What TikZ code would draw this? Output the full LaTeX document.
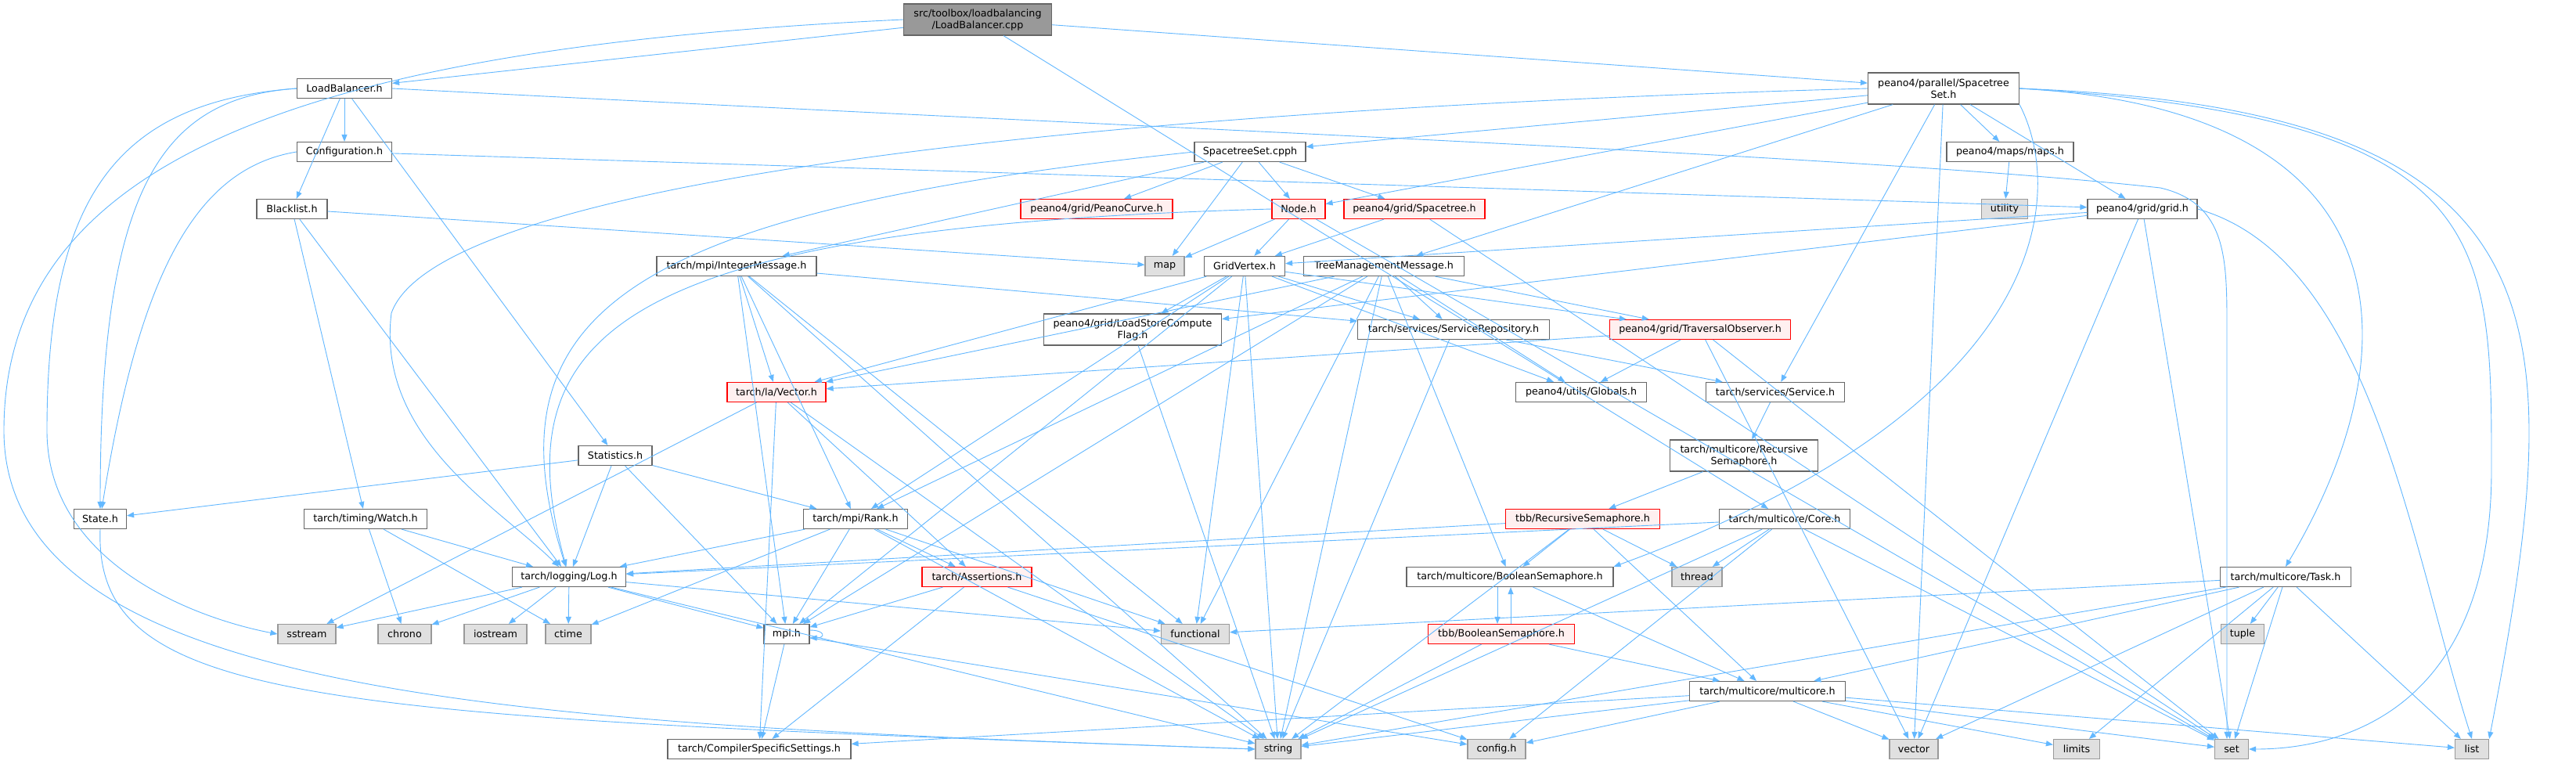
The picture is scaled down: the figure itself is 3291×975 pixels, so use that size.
\documentclass[tikz,border=0pt]{standalone}
\usepackage{fontspec}
\newfontfamily\graphfont{DejaVu Sans}
\usetikzlibrary{arrows.meta}
\definecolor{edgecol}{HTML}{63B8FF}
\definecolor{hdrline}{HTML}{666666}
\definecolor{sysfill}{HTML}{E0E0E0}
\definecolor{sysline}{HTML}{999999}
\definecolor{truncfill}{HTML}{FFF0F0}
\definecolor{truncline}{HTML}{FF0000}
\definecolor{rootfill}{HTML}{999999}
\newcommand{\hdrfont}{\graphfont\fontsize{12.7}{15}\selectfont}
\tikzset{
  hdr/.style   = {rectangle, draw=hdrline, fill=white, line width=1.2pt,
                  align=center, font=\hdrfont, minimum height=25pt, inner sep=2pt},
  sys/.style   = {hdr, draw=sysline, fill=sysfill},
  trunc/.style = {hdr, draw=truncline, fill=truncfill},
  rootnode/.style = {hdr, fill=rootfill, minimum height=40pt},
  dep/.style   = {-{Triangle[length=9pt,width=7pt]}, line width=0.9pt, draw=edgecol},
}

\begin{document}
\begin{tikzpicture}[x=1pt, y=-1pt]
\fill[white] (0,0) rectangle (3291,975);
\useasboundingbox (0,0) rectangle (3291,975);
% top rows
\node[rootnode, minimum width=189pt, minimum height=40pt] (root) at (1249,25) {src/toolbox/loadbalancing\\/LoadBalancer.cpp};
\node[hdr, minimum width=121pt] (lbh) at (440,113) {LoadBalancer.h};
\node[hdr, minimum width=193pt, minimum height=40pt] (ssh) at (2483,113) {peano4/parallel/Spacetree\\Set.h};
\node[hdr, minimum width=121pt] (config) at (440,194) {Configuration.h};
\node[hdr, minimum width=142pt] (cpph) at (1597,194) {SpacetreeSet.cpph};
\node[hdr, minimum width=162pt] (maps) at (2568,194) {peano4/maps/maps.h};
\node[hdr, minimum width=90pt] (blacklist) at (373,267) {Blacklist.h};
\node[trunc, minimum width=194pt] (peanocurve) at (1401,267) {peano4/grid/PeanoCurve.h};
\node[trunc, minimum width=68pt] (node) at (1659,267) {Node.h};
\node[trunc, minimum width=180pt] (spacetree) at (1807,267) {peano4/grid/Spacetree.h};
\node[sys, minimum width=59pt] (utility) at (2561,267) {utility};
\node[hdr, minimum width=140pt] (grid) at (2737,267) {peano4/grid/grid.h};
% middle rows
\node[hdr, minimum width=204pt] (intmsg) at (941,340) {tarch/mpi/IntegerMessage.h};
\node[sys, minimum width=50pt] (map) at (1488,340) {map};
\node[hdr, minimum width=103pt] (gridvertex) at (1590,340) {GridVertex.h};
\node[hdr, minimum width=205pt] (tmm) at (1768,340) {TreeManagementMessage.h};
\node[hdr, minimum width=227pt, minimum height=40pt] (lscflag) at (1447,421) {peano4/grid/LoadStoreCompute\\Flag.h};
\node[hdr, minimum width=245pt] (srvrepo) at (1857,421) {tarch/services/ServiceRepository.h};
\node[trunc, minimum width=231pt] (travobs) at (2172,421) {peano4/grid/TraversalObserver.h};
\node[trunc, minimum width=126pt] (vector) at (992,501) {tarch/la/Vector.h};
\node[hdr, minimum width=167pt] (globals) at (2020,501) {peano4/utils/Globals.h};
\node[hdr, minimum width=177pt] (service) at (2268,501) {tarch/services/Service.h};
\node[hdr, minimum width=94pt] (statistics) at (786,582) {Statistics.h};
\node[hdr, minimum width=189pt, minimum height=40pt] (recsem) at (2228,582) {tarch/multicore/Recursive\\Semaphore.h};
\node[hdr, minimum width=67pt] (state) at (128,663) {State.h};
\node[hdr, minimum width=157pt] (watch) at (467,663) {tarch/timing/Watch.h};
\node[hdr, minimum width=133pt] (rank) at (1093,663) {tarch/mpi/Rank.h};
\node[trunc, minimum width=197pt] (tbbrecsem) at (2022,663) {tbb/RecursiveSemaphore.h};
\node[hdr, minimum width=167pt] (core) at (2280,663) {tarch/multicore/Core.h};
\node[hdr, minimum width=145pt] (log) at (727,737) {tarch/logging/Log.h};
\node[trunc, minimum width=140pt] (assertions) at (1248,737) {tarch/Assertions.h};
\node[hdr, minimum width=264pt] (boolsem) at (1929,737) {tarch/multicore/BooleanSemaphore.h};
\node[sys, minimum width=64pt] (thread) at (2168,737) {thread};
\node[hdr, minimum width=167pt] (task) at (2920,737) {tarch/multicore/Task.h};
% lower rows
\node[sys, minimum width=74pt] (sstream) at (392,810) {sstream};
\node[sys, minimum width=68pt] (chrono) at (517,810) {chrono};
\node[sys, minimum width=80pt] (iostream) at (633,810) {iostream};
\node[sys, minimum width=58pt] (ctime) at (726,810) {ctime};
\node[hdr, minimum width=58pt] (mpi) at (1005,810) {mpi.h};
\node[sys, minimum width=87pt] (functional) at (1527,810) {functional};
\node[trunc, minimum width=187pt] (tbbboolsem) at (1918,810) {tbb/BooleanSemaphore.h};
\node[sys, minimum width=55pt] (tuple) at (2865,810) {tuple};
\node[hdr, minimum width=199pt] (multicore) at (2258,883) {tarch/multicore/multicore.h};
\node[hdr, minimum width=234pt] (css) at (970,957) {tarch/CompilerSpecificSettings.h};
\node[sys, minimum width=58pt] (string) at (1633,957) {string};
\node[sys, minimum width=74pt] (cfgh) at (1912,957) {config.h};
\node[sys, minimum width=62pt] (vectorstd) at (2445,957) {vector};
\node[sys, minimum width=59pt] (limits) at (2653,957) {limits};
\node[sys, minimum width=43pt] (set) at (2851,957) {set};
\node[sys, minimum width=43pt] (list) at (3158,957) {list};
% include edges
\foreach \a/\b in {root/lbh, root/ssh, root/core,
  lbh/config, lbh/blacklist, lbh/statistics, config/grid,
  blacklist/map, blacklist/watch, blacklist/log,
  statistics/state, statistics/log, statistics/rank, statistics/mpi,
  watch/log, watch/chrono, watch/ctime,
  log/sstream, log/chrono, log/iostream, log/ctime, log/mpi, log/functional, log/string,
  rank/log, rank/ctime, rank/mpi, rank/assertions, rank/functional, rank/string,
  mpi/css, mpi/cfgh, assertions/mpi, assertions/css, assertions/cfgh,
  vector/sstream, vector/css, vector/assertions, vector/string,
  intmsg/srvrepo, intmsg/vector, intmsg/functional, intmsg/rank, intmsg/mpi, intmsg/string,
  gridvertex/vector, gridvertex/lscflag, gridvertex/srvrepo, gridvertex/globals, gridvertex/travobs,
  gridvertex/rank, gridvertex/mpi, gridvertex/functional, gridvertex/string,
  lscflag/string,
  tmm/srvrepo, tmm/travobs, tmm/globals, tmm/vector, tmm/rank, tmm/mpi, tmm/functional, tmm/string, tmm/boolsem,
  srvrepo/service, srvrepo/string,
  travobs/vector, travobs/globals, travobs/vectorstd, travobs/set,
  service/recsem, recsem/tbbrecsem,
  tbbrecsem/log, tbbrecsem/string, tbbrecsem/boolsem, tbbrecsem/multicore, tbbrecsem/thread,
  core/log, core/thread, core/string, core/cfgh, core/set,
  boolsem/multicore, tbbboolsem/string, tbbboolsem/multicore,
  multicore/css, multicore/string, multicore/cfgh, multicore/vectorstd, multicore/set, multicore/list, multicore/limits,
  task/functional, task/multicore, task/string, task/vectorstd, task/tuple, task/limits, task/set, task/list,
  grid/gridvertex, grid/lscflag, grid/vectorstd, grid/set,
  maps/utility,
  cpph/peanocurve, cpph/node, cpph/spacetree, cpph/map, cpph/intmsg,
  node/map, node/gridvertex, node/set,
  spacetree/gridvertex, spacetree/set,
  ssh/cpph, ssh/maps, ssh/grid, ssh/tmm, ssh/node, ssh/service, ssh/vectorstd}
  {\draw[dep] (\a) -- (\b);}
% routed edges
\draw[dep] (root.west) .. controls (400,60) and (5,200) .. (5,550) .. controls (5,900) and (700,925) .. (string.west);
\draw[dep] (lbh.west) .. controls (150,130) and (60,250) .. (60,550) .. controls (60,720) and (250,790) .. (sstream.west);
\draw[dep] (lbh.west) .. controls (200,125) and (128,250) .. (state.north);
\draw[dep] (config.west) .. controls (250,215) and (178,350) .. (state);
\draw[dep] (state.south) .. controls (120,900) and (400,915) .. (string.west);
\draw[dep] (lbh.east) .. controls (1600,170) and (2400,200) .. (2760,240) .. controls (2845,260) and (2845,330) .. (2845,420) -- ([xshift=-6pt]set.north);
\draw[dep] (ssh.east) .. controls (3285,140) and (3285,400) .. (list.north east);
\draw[dep] (ssh.east) .. controls (3183,150) and (3183,300) .. (3183,600) .. controls (3183,900) and (3000,957) .. (set.east);
\draw[dep] (ssh.east) .. controls (3083,140) and (3083,450) .. (task.north);
\draw[dep] (ssh.south east) .. controls (2640,250) and (2620,520) .. (boolsem.north east);
\draw[dep] (ssh.west) .. controls (1400,140) and (560,230) .. (500,400) .. controls (480,560) and (640,650) .. (log);
\draw[dep] (cpph.west) .. controls (800,270) and (620,400) .. (log);
\draw[dep] (node.west) .. controls (800,290) and (640,420) .. (log);
\draw[dep] (grid.east) .. controls (3030,330) and (3080,700) .. (list.north);
\draw[dep] ([xshift=-16pt]boolsem.south) -- ([xshift=-5pt]tbbboolsem.north);
\draw[dep] ([xshift=12pt]tbbboolsem.north) -- ([xshift=1pt]boolsem.south);
\draw[dep] ([yshift=5pt]mpi.east) .. controls +(20,0) and +(20,0) .. ([yshift=-5pt]mpi.east);
\end{tikzpicture}
\end{document}
